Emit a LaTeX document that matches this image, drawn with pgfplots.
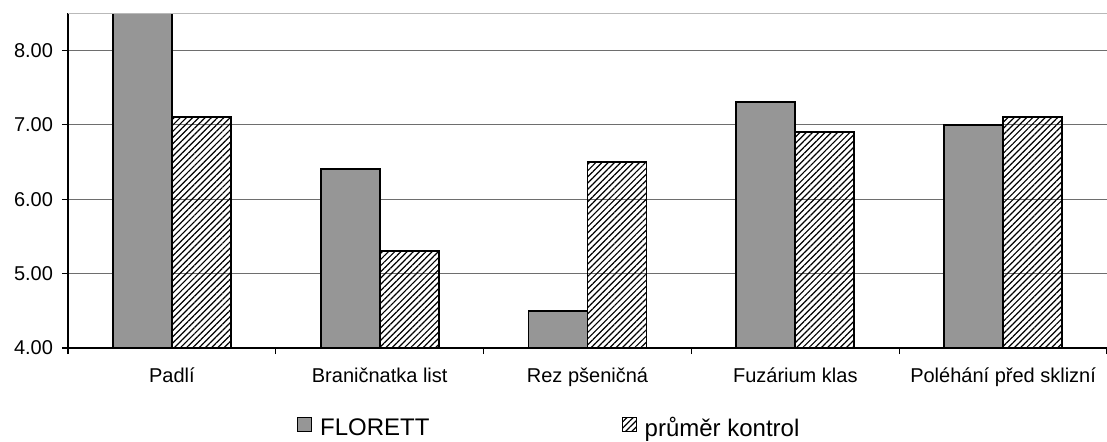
\documentclass[border=0pt]{standalone}
\usepackage{fontspec}
\setmainfont{Liberation Sans}
\usepackage{pgfplots}
\pgfplotsset{compat=1.18}
\usetikzlibrary{patterns.meta}
\definecolor{barGray}{RGB}{150,150,150}
\definecolor{gridGray}{RGB}{110,110,110}
\begin{document}
\begin{tikzpicture}[x=1pt,y=1pt]
\useasboundingbox (0,0) rectangle (553.5,220.5);
\begin{axis}[
  at={(34pt,46.5pt)}, anchor=south west,
  scale only axis, width=519.5pt, height=167.5pt,
  ymin=4, ymax=8.5, xmin=-0.5, xmax=4.5,
  ytick={4,5,6,7,8},
  ymajorgrids, grid style={gridGray, line width=0.6pt},
  axis x line*=bottom, axis y line*=left,
  axis line style={black, line width=0.6pt, -},
  tick align=outside, major tick length=3pt,
  tick style={black, line width=0.6pt},
  xtick={-0.5,0.5,1.5,2.5,3.5,4.5},
  x tick label as interval,
  xticklabels={Padlí, Braničnatka list, Rez pšeničná, Fuzárium klas, Poléhání před sklizní},
  xticklabel style={font=\fontsize{10}{12}\selectfont, yshift=-3.5pt},
  yticklabel style={font=\fontsize{10}{12}\selectfont, xshift=-1pt, /pgf/number format/.cd, fixed, fixed zerofill, precision=2},
  /pgf/number format/assume math mode=true,
  ybar=0pt, bar width=29.5pt,
  legend columns=2,
  legend style={draw=none, fill=none, at={(axis description cs:0.2204,-0.24)}, anchor=west,
    inner sep=0pt, outer sep=0pt, font=\fontsize{12}{14}\selectfont,
    nodes={inner sep=0pt},
    /tikz/every odd column/.append style={column sep=4pt},
    /tikz/every even column/.append style={column sep=96pt}},
  legend image code/.code={\draw[#1, line width=0.6pt] (0pt,-1.5pt) rectangle (7pt,5.5pt);},
]
\addplot[fill=barGray, draw=black, line width=0.9pt] coordinates {(0,9.0) (1,6.4) (2,4.5) (3,7.3) (4,7.0)};
\addplot[draw=black, line width=0.9pt, pattern={Lines[angle=45,distance=2.2pt,line width=0.6pt]}] coordinates {(0,7.1) (1,5.3) (2,6.5) (3,6.9) (4,7.1)};
\legend{FLORETT, průměr kontrol}
\draw[gray!55, line width=1.2pt] (rel axis cs:0,1) -- (rel axis cs:1,1);
\end{axis}
\end{tikzpicture}
\end{document}
